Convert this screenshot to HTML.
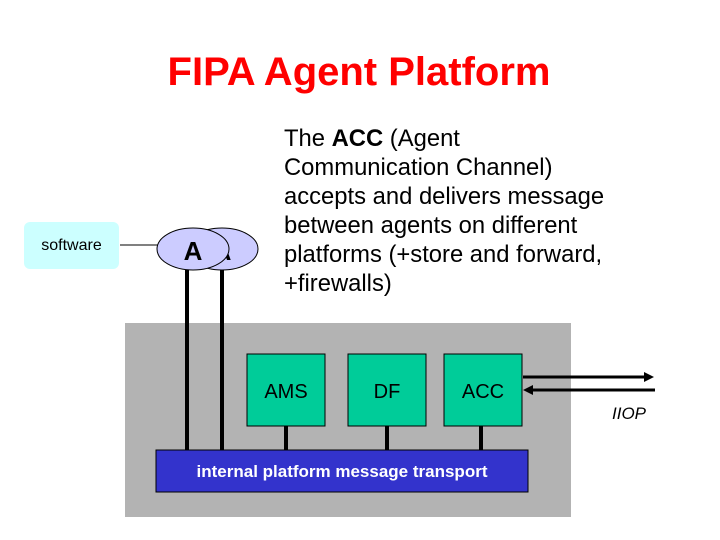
<!DOCTYPE html>
<html><head><style>
body{margin:0;width:720px;height:540px;background:#fff;position:relative;overflow:hidden;font-family:"Liberation Sans",sans-serif}
.a{position:absolute}
</style></head><body>
<div class="a" style="left:0;width:718px;top:50px;text-align:center;font-size:40px;font-weight:bold;color:#ff0000">FIPA Agent Platform</div>
<div class="a" style="left:284px;top:124px;font-size:23.8px;line-height:29px;color:#000">The <b>ACC</b> (Agent<br>Communication Channel)<br>accepts and delivers message<br>between agents on different<br>platforms (+store and forward,<br>+firewalls)</div>
<div class="a" style="left:125px;top:323px;width:446px;height:194px;background:#b3b3b3"></div>
<svg class="a" style="left:0;top:0" width="720" height="540">
<line x1="120" y1="245" x2="158" y2="245" stroke="#000" stroke-width="1"/>
<ellipse cx="222" cy="249" rx="36" ry="21" fill="#ccccff" stroke="#000" stroke-width="1"/>
<text x="222" y="260" font-size="26" font-weight="bold" text-anchor="middle" font-family="Liberation Sans">A</text>
<ellipse cx="193" cy="249" rx="36" ry="21" fill="#ccccff" stroke="#000" stroke-width="1"/>
<text x="193" y="260" font-size="26" font-weight="bold" text-anchor="middle" font-family="Liberation Sans">A</text>
<line x1="187" y1="270" x2="187" y2="451" stroke="#000" stroke-width="4"/>
<line x1="222" y1="270" x2="222" y2="451" stroke="#000" stroke-width="4"/>
<line x1="286" y1="426" x2="286" y2="451" stroke="#000" stroke-width="4"/>
<line x1="387" y1="426" x2="387" y2="451" stroke="#000" stroke-width="4"/>
<line x1="481" y1="426" x2="481" y2="451" stroke="#000" stroke-width="4"/>
<rect x="247" y="354" width="78" height="72" fill="#00cc99" stroke="#000"/>
<rect x="348" y="354" width="78" height="72" fill="#00cc99" stroke="#000"/>
<rect x="444" y="354" width="78" height="72" fill="#00cc99" stroke="#000"/>
<text x="286" y="398" font-size="20" text-anchor="middle" font-family="Liberation Sans">AMS</text>
<text x="387" y="398" font-size="20" text-anchor="middle" font-family="Liberation Sans">DF</text>
<text x="483" y="398" font-size="20" text-anchor="middle" font-family="Liberation Sans">ACC</text>
<rect x="156" y="450" width="372" height="42" fill="#3333cc" stroke="#000"/>
<text x="342" y="477" font-size="17" font-weight="bold" fill="#fff" text-anchor="middle" font-family="Liberation Sans">internal platform message transport</text>
<line x1="523" y1="377" x2="646" y2="377" stroke="#000" stroke-width="3"/>
<polygon points="654,377 644,372 644,382" fill="#000"/>
<line x1="533" y1="390" x2="655" y2="390" stroke="#000" stroke-width="3"/>
<polygon points="523,390 533,385 533,395" fill="#000"/>
<text x="612" y="419" font-size="17" font-style="italic" font-family="Liberation Sans">IIOP</text>
</svg>
<div class="a" style="left:24px;top:222px;width:95px;height:47px;background:#ccffff;border-radius:6px;font-size:16px;line-height:47px;text-align:center">software</div>
</body></html>
